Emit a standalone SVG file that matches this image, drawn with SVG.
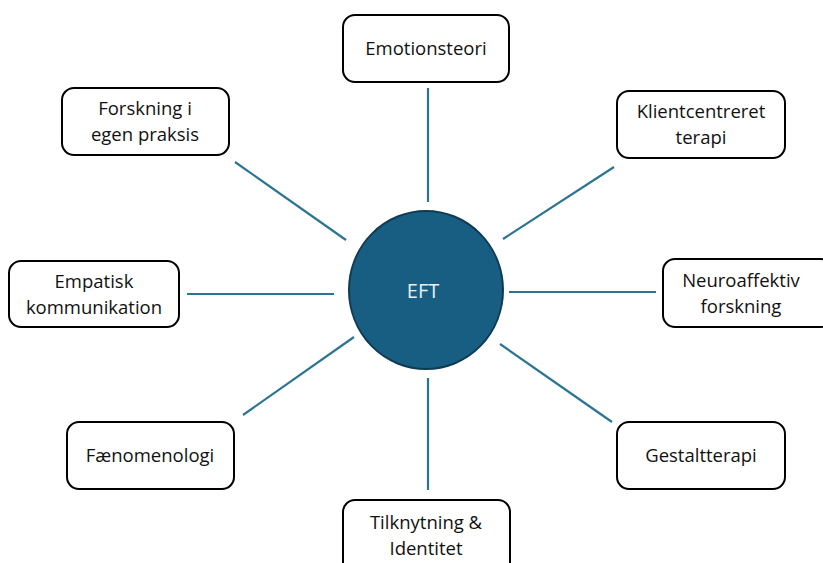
<svg xmlns="http://www.w3.org/2000/svg" width="823" height="563" viewBox="0 0 823 563">
<style>
.box{fill:#fff;stroke:#000;stroke-width:2}
.t{font-family:"Open Sans","Liberation Sans",sans-serif;font-size:18.5px;fill:#111;text-anchor:middle}
.c{stroke:#2B7592;stroke-width:2.2;fill:none}
</style>
<rect width="823" height="563" fill="#fff"/>
<g id="connectors">
<line class="c" x1="428" y1="88" x2="428" y2="202"/>
<line class="c" x1="235" y1="162" x2="346" y2="240"/>
<line class="c" x1="614" y1="167" x2="503" y2="239"/>
<line class="c" x1="187" y1="294" x2="334" y2="294"/>
<line class="c" x1="509" y1="292" x2="656" y2="292"/>
<line class="c" x1="243" y1="415" x2="354" y2="337"/>
<line class="c" x1="500" y1="344" x2="612" y2="422"/>
<line class="c" x1="428" y1="378" x2="428" y2="490"/>
</g>
<g id="eft">
<ellipse cx="426" cy="290" rx="77" ry="79" fill="#175E82" stroke="#0E3C54" stroke-width="2"/>
<text x="423" y="298" style="font-family:'Open Sans','Liberation Sans',sans-serif;font-size:20px;fill:#E8F0F4;text-anchor:middle">EFT</text>
</g>
<g id="emotionsteori">
<rect class="box" x="343" y="15" width="166" height="67" rx="12"/>
<text class="t" x="426" y="55">Emotionsteori</text>
</g>
<g id="forskning">
<rect class="box" x="62" y="88" width="167" height="67" rx="12"/>
<text class="t" x="145" y="115">Forskning i</text>
<text class="t" x="145" y="141">egen praksis</text>
</g>
<g id="klientcentreret">
<rect class="box" x="617" y="91" width="168" height="67" rx="12"/>
<text class="t" x="701" y="118">Klientcentreret</text>
<text class="t" x="701" y="144">terapi</text>
</g>
<g id="empatisk">
<rect class="box" x="9" y="261" width="170" height="66" rx="12"/>
<text class="t" x="94" y="288">Empatisk</text>
<text class="t" x="94" y="314">kommunikation</text>
</g>
<g id="neuroaffektiv">
<rect class="box" x="663" y="259" width="170" height="68" rx="12"/>
<text class="t" x="741" y="287">Neuroaffektiv</text>
<text class="t" x="741" y="313">forskning</text>
</g>
<g id="faenomenologi">
<rect class="box" x="67" y="422" width="167" height="67" rx="12"/>
<text class="t" x="150" y="462">Fænomenologi</text>
</g>
<g id="gestaltterapi">
<rect class="box" x="617" y="422" width="168" height="67" rx="12"/>
<text class="t" x="701" y="462">Gestaltterapi</text>
</g>
<g id="tilknytning">
<rect class="box" x="343" y="500" width="167" height="80" rx="12"/>
<text class="t" x="426" y="529">Tilknytning &amp;</text>
<text class="t" x="426" y="555">Identitet</text>
</g>
</svg>
